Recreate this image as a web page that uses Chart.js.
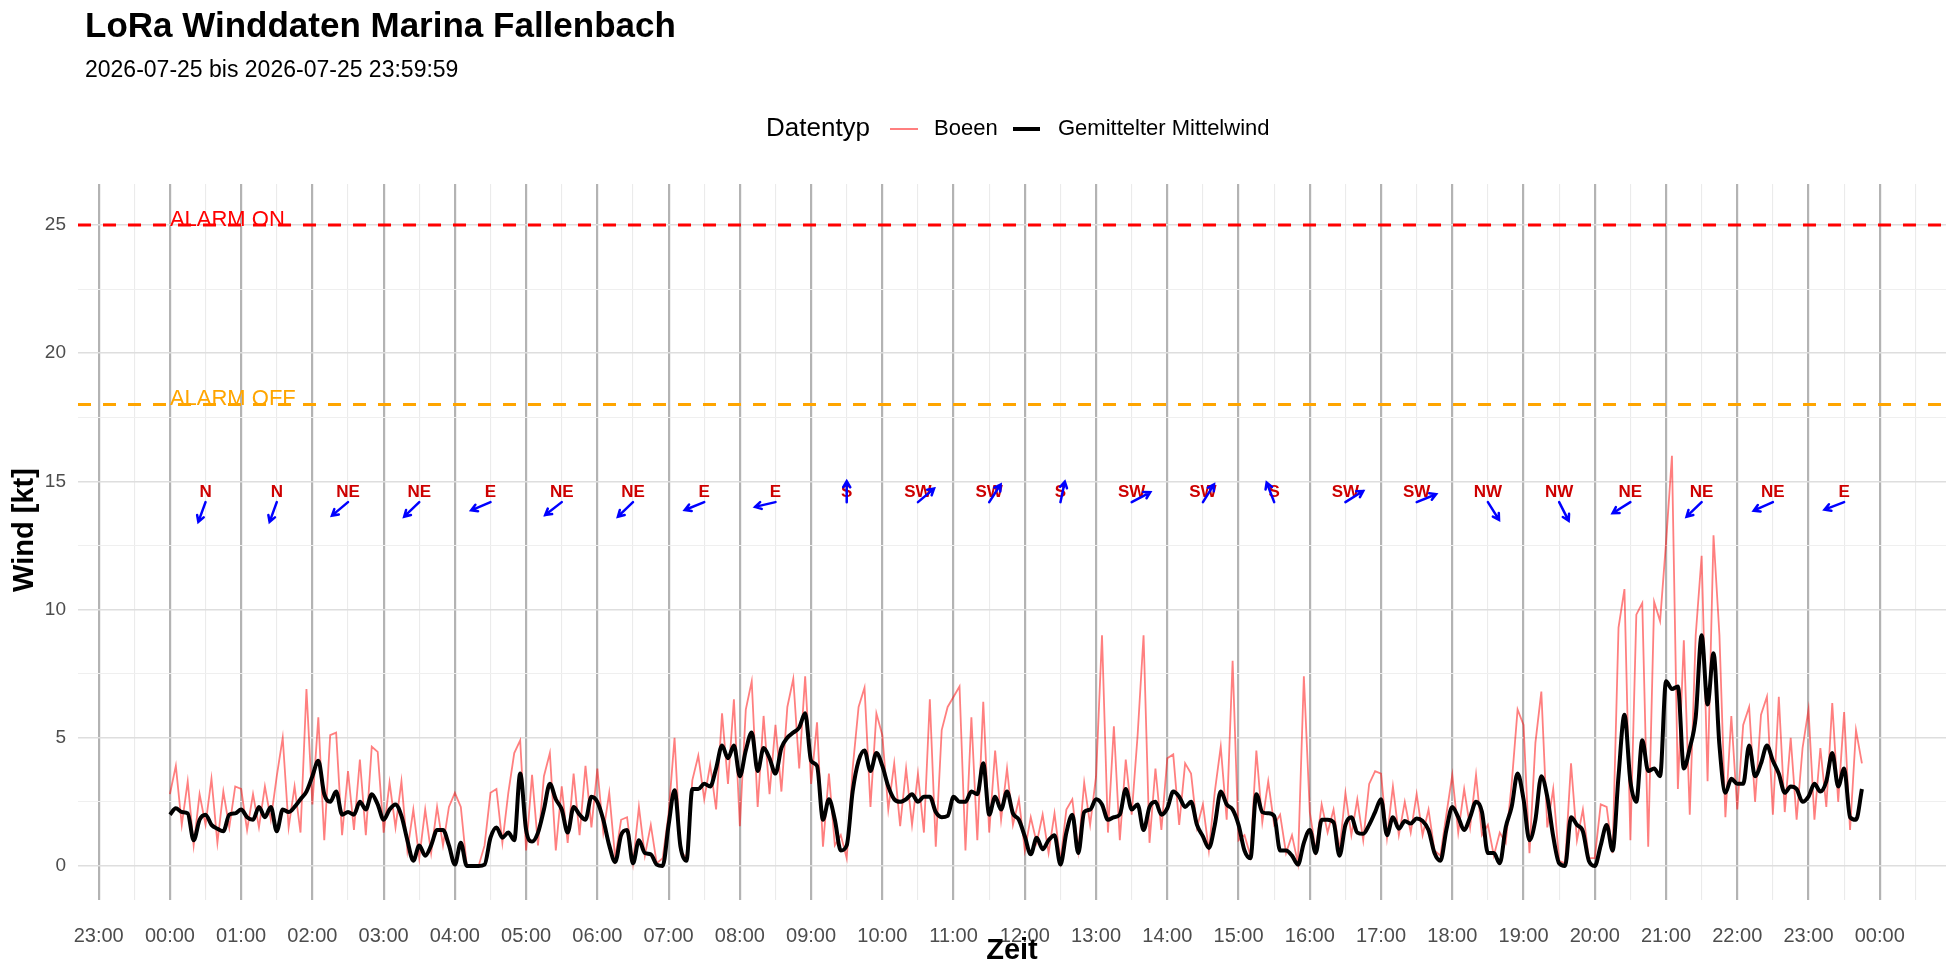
<!DOCTYPE html>
<html>
<head>
<meta charset="utf-8">
<script src="https://cdn.jsdelivr.net/npm/chart.js@4.4.1/dist/chart.umd.min.js"></script>
<style>
  html, body { margin: 0; padding: 0; background: #fff; }
  #wrap { width: 1960px; height: 980px; position: relative; }
</style>
</head>
<body>
<div id="wrap"><canvas id="chartWind"></canvas></div>
<script>
const FONT = '"Liberation Sans", Arial, Helvetica, sans-serif';

// samples every 5 minutes starting 00:00
const startMinute = 0;
const stepMinutes = 5;

// Gemittelter Mittelwind [kt]
const meanWind = [
  2.0,2.25,2.1,2.05,1.0,1.8,2.0,1.6,1.45,1.35,2.0,2.05,
  2.2,1.9,1.8,2.3,1.9,2.3,1.35,2.2,2.1,2.3,2.6,2.9,
  3.5,4.1,2.8,2.5,2.9,2.0,2.1,2.0,2.5,2.2,2.8,2.4,
  1.8,2.2,2.4,1.95,1.0,0.2,0.8,0.4,0.8,1.4,1.4,0.8,
  0.05,0.9,0,0,0,0.05,1.1,1.5,1.1,1.3,1.0,3.6,
  1.4,0.95,1.3,2.2,3.2,2.6,2.2,1.3,2.3,2.0,1.8,2.7,
  2.5,1.8,0.8,0.15,1.2,1.4,0.1,1.0,0.5,0.45,0.05,0,
  1.6,2.95,0.75,0.2,3.0,3.0,3.2,3.1,3.8,4.7,4.2,4.7,
  3.5,4.5,5.2,3.7,4.6,4.2,3.6,4.6,5.0,5.2,5.4,5.95,
  4.1,3.9,1.8,2.6,1.8,0.6,0.8,2.9,4.1,4.5,3.7,4.4,
  3.9,3.1,2.6,2.5,2.6,2.8,2.5,2.7,2.7,2.1,1.9,1.95,
  2.7,2.5,2.5,2.9,2.8,4.0,2.0,2.7,2.2,2.9,2.05,1.8,
  1.15,0.45,1.1,0.65,1.0,1.2,0.05,1.3,2.0,0.5,2.1,2.2,
  2.6,2.4,1.8,1.9,2.0,3.0,2.2,2.4,1.4,2.3,2.5,2.0,
  2.25,2.9,2.7,2.3,2.5,1.6,1.15,0.7,1.6,2.9,2.4,2.2,
  1.6,0.6,0.3,2.8,2.1,2.05,1.95,0.6,0.6,0.4,0.05,0.9,
  1.4,0.5,1.8,1.8,1.7,0.4,1.6,1.9,1.3,1.25,1.6,2.1,
  2.6,1.2,1.9,1.45,1.75,1.65,1.85,1.75,1.4,0.5,0.2,1.4,
  2.3,1.9,1.4,1.9,2.5,2.1,0.5,0.5,0.1,1.5,2.3,3.6,
  2.6,1.0,1.8,3.5,2.7,1.15,0.1,0,1.9,1.6,1.35,0.2,
  0,0.8,1.6,0.6,3.5,5.9,3.3,2.5,4.9,3.7,3.8,3.5,
  7.2,6.9,7.0,3.8,4.6,5.8,9.0,6.3,8.3,4.7,2.85,3.4,
  3.2,3.2,4.7,3.5,4.0,4.7,4.1,3.6,2.85,3.1,3.0,2.5,
  2.7,3.2,2.9,3.3,4.4,3.1,3.8,1.9,1.8,3.0
];

// Boeen [kt]
const gusts = [
  2.8,3.9,1.6,3.3,0.8,2.8,1.6,3.4,0.9,2.9,1.5,3.1,
  3.0,1.4,2.8,1.5,3.1,1.8,3.5,5.0,1.5,3.1,1.3,6.9,
  2.4,5.8,1.0,5.1,5.2,1.2,3.7,1.4,4.15,1.2,4.65,4.45,
  1.3,3.25,1.5,3.3,0.6,2.2,0.3,2.2,0.5,2.3,0.8,2.3,
  2.85,2.3,0,0,0,0.8,2.85,3.0,0.9,2.85,4.4,4.9,
  0.6,3.55,0.8,3.5,4.4,0.6,3.1,0.9,3.6,1.2,3.9,1.5,
  3.8,1.3,2.85,0.3,1.8,1.9,0.1,2.3,0.4,1.6,0.1,0.3,
  2.05,5.0,0.6,0.3,3.35,4.3,2.6,3.95,2.2,5.95,3.2,6.5,
  1.55,6.1,7.2,2.3,5.85,2.8,5.5,2.9,6.2,7.3,3.8,7.4,
  3.2,5.6,0.75,3.6,0.8,1.2,0.3,3.8,6.2,6.95,2.3,5.95,
  5.1,2.2,4.0,1.55,3.8,1.6,3.6,1.3,6.5,0.75,5.3,6.2,
  6.6,7.0,0.6,5.8,1.0,6.4,1.3,4.5,1.8,3.8,1.6,2.6,
  0.6,1.9,0.9,2.0,0.5,2.05,0.2,2.2,2.6,0.6,3.25,1.6,
  3.5,9.0,1.3,5.45,1.0,4.15,2.0,5.1,9.0,0.9,3.8,1.4,
  4.2,4.35,1.6,4.0,3.6,1.5,2.4,0.6,2.9,4.65,1.8,8.0,
  1.0,1.2,0.4,4.5,1.7,3.3,1.6,2.0,0.5,1.2,0.1,7.4,
  2.1,0.6,2.4,1.3,2.2,0.6,2.85,1.2,2.6,1.0,3.2,3.7,
  3.6,1.1,3.1,1.2,2.5,1.3,2.8,1.2,2.2,0.6,0.4,2.0,
  3.55,1.3,3.0,1.5,3.55,1.2,1.6,0.4,1.3,0.9,3.2,6.1,
  5.5,0.5,4.8,6.8,1.5,3.0,0.2,0.1,4.0,1.0,2.2,0.3,
  0.3,2.4,2.3,0.5,9.3,10.8,1.0,9.8,10.25,0.75,10.3,9.55,
  12.6,16.0,3.0,8.8,2.0,9.0,12.1,3.3,12.9,9.0,1.9,5.85,
  2.2,5.5,6.2,2.5,5.9,6.6,2.0,6.6,2.1,5.0,1.8,4.6,
  6.1,1.8,4.6,2.3,6.35,2.5,6.0,1.4,5.3,4.0
];

// hourly wind direction (placed at half past each hour)
const dirHours = [0.5,1.5,2.5,3.5,4.5,5.5,6.5,7.5,8.5,9.5,10.5,11.5,12.5,13.5,14.5,15.5,16.5,17.5,18.5,19.5,20.5,21.5,22.5,23.5];
const dirLabels = ['N','N','NE','NE','E','NE','NE','E','E','S','SW','SW','S','SW','SW','S','SW','SW','NW','NW','NE','NE','NE','E'];
const dirDegrees = [20,20,50,46,67,52,46,68,77,180,230,213,192,242,212,159,238,248,328,333,58,46,66,69];

const alarmOn = 25;
const alarmOff = 18;

// hours relative to 00:00 of the day
const xTickValues = [-1,0,1,2,3,4,5,6,7,8,9,10,11,12,13,14,15,16,17,18,19,20,21,22,23,24];
const xTickLabels = ['23:00','00:00','01:00','02:00','03:00','04:00','05:00','06:00','07:00','08:00','09:00','10:00','11:00','12:00','13:00','14:00','15:00','16:00','17:00','18:00','19:00','20:00','21:00','22:00','23:00','00:00'];
const yTickValues = [0,5,10,15,20,25];

const toPoints = arr => arr.map((v, i) => ({x: (startMinute + i * stepMinutes) / 60, y: v}));

const extras = {
  id: 'windExtras',
  afterDatasetsDraw(chart) {
    const {ctx, chartArea: a, scales: {x, y}} = chart;
    ctx.save();
    ctx.beginPath();
    ctx.rect(a.left, a.top, a.width, a.height);
    ctx.clip();

    // alarm lines
    [[alarmOn, '#FF0000', 'ALARM ON'], [alarmOff, '#FFA500', 'ALARM OFF']].forEach(([val, col, txt]) => {
      const py = y.getPixelForValue(val);
      ctx.strokeStyle = col;
      ctx.lineWidth = 3;
      ctx.setLineDash([13, 12]);
      ctx.beginPath();
      ctx.moveTo(a.left, py);
      ctx.lineTo(a.right, py);
      ctx.stroke();
      ctx.setLineDash([]);
      ctx.fillStyle = col;
      ctx.font = '22px ' + FONT;
      ctx.textAlign = 'left';
      ctx.textBaseline = 'alphabetic';
      ctx.fillText(txt, x.getPixelForValue(0), py + 1);
    });

    // direction labels + arrows
    dirHours.forEach((h, i) => {
      const px = x.getPixelForValue(h);
      ctx.fillStyle = '#CD0000';
      ctx.font = 'bold 17px ' + FONT;
      ctx.textAlign = 'center';
      ctx.textBaseline = 'middle';
      ctx.fillText(dirLabels[i], px, y.getPixelForValue(14.58));

      const sy = y.getPixelForValue(14.19);
      const phi = (dirDegrees[i] + 180) * Math.PI / 180;
      const L = 21;
      const ex = px + Math.sin(phi) * L;
      const ey = sy - Math.cos(phi) * L;
      ctx.strokeStyle = '#0000FF';
      ctx.lineWidth = 2.5;
      ctx.lineCap = 'round';
      ctx.beginPath();
      ctx.moveTo(px, sy);
      ctx.lineTo(ex, ey);
      const ang = Math.atan2(ey - sy, ex - px);
      const hl = 7;
      ctx.moveTo(ex - hl * Math.cos(ang - Math.PI / 6), ey - hl * Math.sin(ang - Math.PI / 6));
      ctx.lineTo(ex, ey);
      ctx.lineTo(ex - hl * Math.cos(ang + Math.PI / 6), ey - hl * Math.sin(ang + Math.PI / 6));
      ctx.stroke();
    });
    ctx.restore();
  },
  afterDraw(chart) {
    const {ctx, chartArea: a} = chart;
    ctx.save();
    ctx.fillStyle = '#000';
    ctx.textAlign = 'left';
    ctx.textBaseline = 'middle';
    ctx.font = 'bold 35px ' + FONT;
    ctx.fillText('LoRa Winddaten Marina Fallenbach', 85, 27);
    ctx.font = '23px ' + FONT;
    ctx.fillText('2026-07-25 bis 2026-07-25 23:59:59', 85, 71);

    // legend
    const ly = 129;
    ctx.font = '26px ' + FONT;
    ctx.fillText('Datentyp', 766, ly);
    ctx.lineCap = 'butt';
    ctx.strokeStyle = 'rgba(255,0,0,0.5)';
    ctx.lineWidth = 2;
    ctx.beginPath(); ctx.moveTo(890, ly); ctx.lineTo(918, ly); ctx.stroke();
    ctx.font = '22px ' + FONT;
    ctx.fillText('Boeen', 934, ly);
    ctx.strokeStyle = '#000';
    ctx.lineWidth = 4;
    ctx.beginPath(); ctx.moveTo(1013, ly); ctx.lineTo(1040, ly); ctx.stroke();
    ctx.fillText('Gemittelter Mittelwind', 1058, ly);

    // axis titles
    ctx.font = 'bold 29px ' + FONT;
    ctx.textAlign = 'center';
    ctx.fillText('Zeit', (a.left + a.right) / 2, 951);
    ctx.translate(25, 530);
    ctx.rotate(-Math.PI / 2);
    ctx.fillText('Wind [kt]', 0, 0);
    ctx.restore();
  }
};

const isWhole = v => Math.abs(v - Math.round(v)) < 1e-6;

new Chart(document.getElementById('chartWind'), {
  type: 'line',
  data: {
    datasets: [
      {
        label: 'Gemittelter Mittelwind',
        data: toPoints(meanWind),
        borderColor: '#000',
        borderWidth: 4,
        pointRadius: 0,
        cubicInterpolationMode: 'monotone',
        order: 0
      },
      {
        label: 'Boeen',
        data: toPoints(gusts),
        borderColor: 'rgba(255,0,0,0.5)',
        borderWidth: 1.8,
        pointRadius: 0,
        tension: 0,
        order: 1
      }
    ]
  },
  options: {
    responsive: true,
    maintainAspectRatio: false,
    animation: false,
    devicePixelRatio: 1,
    layout: { padding: { top: 184, right: 14, left: 0, bottom: 0 } },
    plugins: { legend: { display: false }, title: { display: false }, tooltip: { enabled: false } },
    scales: {
      x: {
        type: 'linear',
        min: -1.29,
        max: 24.93,
        afterBuildTicks: s => {
          const t = [];
          xTickValues.forEach(v => { t.push({value: v}); if (v + 0.5 <= 24.93) t.push({value: v + 0.5}); });
          s.ticks = t;
        },
        afterFit: s => { s.height = 80; },
        border: { display: false },
        grid: {
          drawTicks: false,
          color: c => isWhole(c.tick.value) ? '#b3b3b3' : '#ebebeb',
          lineWidth: c => isWhole(c.tick.value) ? 2.2 : 1.1
        },
        ticks: {
          autoSkip: false,
          maxRotation: 0,
          padding: 24,
          color: '#4d4d4d',
          font: { family: FONT, size: 20 },
          callback: v => { const i = xTickValues.indexOf(v); return i >= 0 ? xTickLabels[i] : ''; }
        }
      },
      y: {
        min: -1.33,
        max: 26.6,
        afterBuildTicks: s => {
          const t = [];
          yTickValues.forEach(v => { t.push({value: v}); if (v + 2.5 < 26.6) t.push({value: v + 2.5}); });
          s.ticks = t;
        },
        afterFit: s => { s.width = 78; },
        border: { display: false },
        grid: {
          drawTicks: false,
          color: c => yTickValues.includes(c.tick.value) ? '#dedede' : '#efefef',
          lineWidth: c => yTickValues.includes(c.tick.value) ? 1.5 : 1
        },
        ticks: {
          padding: 12,
          color: '#4d4d4d',
          font: { family: FONT, size: 19 },
          callback: v => yTickValues.includes(v) ? String(v) : ''
        }
      }
    }
  },
  plugins: [extras]
});
</script>
</body>
</html>
